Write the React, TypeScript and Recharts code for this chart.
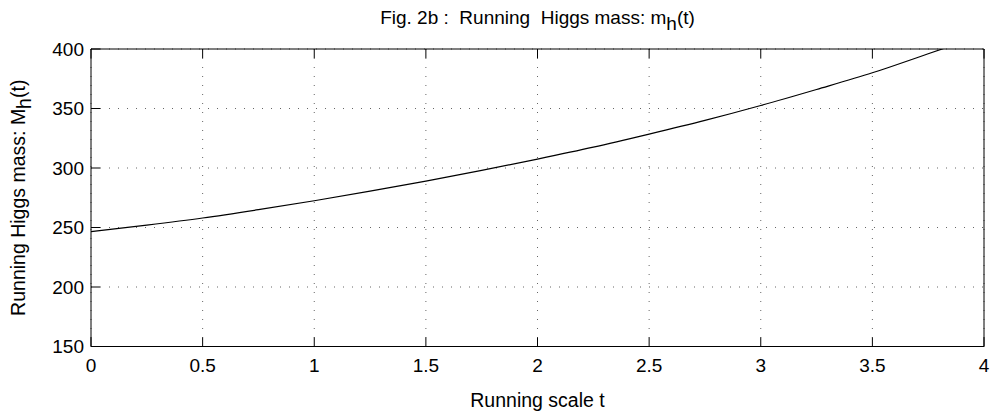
import React from 'react';
import { LineChart, Line, XAxis, YAxis, CartesianGrid, Label } from 'recharts';

// running scale t and Higgs mass
const tValues = [0, 0.25, 0.5, 0.75, 1, 1.25, 1.5, 1.75, 2, 2.25, 2.5, 2.75, 3, 3.25, 3.5, 3.75, 4];
const massValues = [246.5, 252, 258, 265, 272.5, 280.5, 289, 298, 307.5, 317.5, 328.5, 340, 352.5, 366, 380, 396, 412];

const xTicks = [0, 0.5, 1, 1.5, 2, 2.5, 3, 3.5, 4];
const yTicks = [150, 200, 250, 300, 350, 400];

const data = tValues.map((t, i) => ({ t, m: massValues[i] }));

const FONT = 'Liberation Sans, Arial, Helvetica, sans-serif';
const TICK_IN = -9;

// title and x label, drawn from the bottom axis' view box
const XTitle = (props: any) => {
    const { viewBox } = props;
    const cx = viewBox.x + viewBox.width / 2;
    return (
        <g>
            <text x={cx} y={24} textAnchor="middle" fontFamily={FONT} fontSize={19} fill="#000"
                style={{ whiteSpace: 'pre' }}>
                Fig. 2b :  Running  Higgs mass: m<tspan dy={6}>h</tspan><tspan dy={-6}>(t)</tspan>
            </text>
            <text x={cx} y={viewBox.y + 60} textAnchor="middle" fontFamily={FONT} fontSize={19.5} fill="#000">
                Running scale t
            </text>
        </g>
    );
};

const YTitle = (props: any) => {
    const { viewBox } = props;
    const cy = viewBox.y + viewBox.height / 2;
    const x = 25;
    return (
        <text x={x} y={cy} textAnchor="middle" fontFamily={FONT} fontSize={19.5} fill="#000"
            transform={`rotate(-90 ${x} ${cy})`}>
            Running Higgs mass: M<tspan dy={6}>h</tspan><tspan dy={-6}>(t)</tspan>
        </text>
    );
};

export default function App() {
    return (
        <div style={{ position: 'absolute', left: 0, top: 0, background: '#fff' }}>
            <LineChart width={991} height={416} data={data}
                margin={{ top: 48, right: 6, bottom: 0, left: 0 }}>
                <CartesianGrid stroke="#666" strokeDasharray="1 8" />
                <XAxis dataKey="t" type="number" domain={[0, 4]} ticks={xTicks}
                    height={69.5} stroke="#000" tickSize={TICK_IN} tickMargin={21}
                    tick={{ fill: '#000', fontSize: 19, fontFamily: FONT }}
                    tickFormatter={(v) => String(v)}>
                    <Label content={<XTitle />} />
                </XAxis>
                <XAxis xAxisId="top" dataKey="t" type="number" domain={[0, 4]} ticks={xTicks}
                    orientation="top" height={1} stroke="#000" tickSize={TICK_IN}
                    tickFormatter={() => ''} />
                <YAxis type="number" domain={[150, 400]} ticks={yTicks} allowDataOverflow
                    width={91} stroke="#000" tickSize={TICK_IN} tickMargin={16}
                    tick={{ fill: '#000', fontSize: 19, fontFamily: FONT }}>
                    <Label content={<YTitle />} />
                </YAxis>
                <YAxis yAxisId="right" type="number" domain={[150, 400]} ticks={yTicks}
                    orientation="right" width={1} stroke="#000" tickSize={TICK_IN}
                    tickFormatter={() => ''} />
                <Line type="monotone" dataKey="m" stroke="#000" strokeWidth={1.2}
                    dot={false} isAnimationActive={false} />
            </LineChart>
        </div>
    );
}
